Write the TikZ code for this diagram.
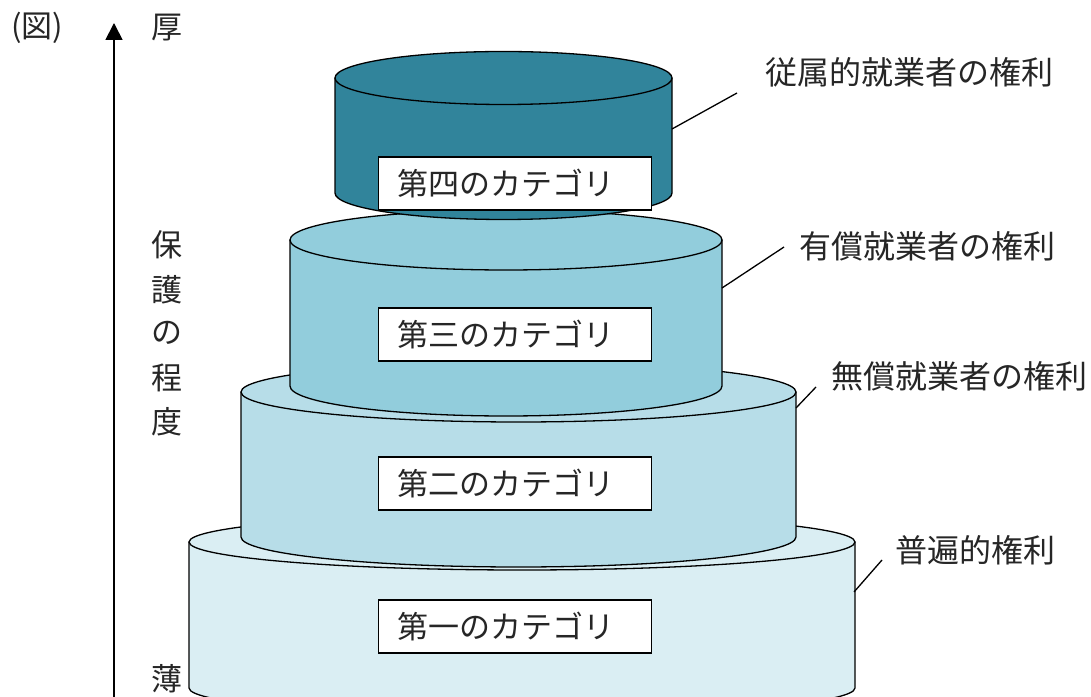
\documentclass[tikz,border=0pt]{standalone}
\usepackage{fontspec}
\setmainfont{Noto Sans CJK JP}
\usetikzlibrary{arrows.meta}
\definecolor{c4}{HTML}{31849B}
\definecolor{c3}{HTML}{92CDDC}
\definecolor{c2}{HTML}{B7DDE8}
\definecolor{c1}{HTML}{DAEEF3}
\newcommand{\drawcyl}[6]{%
  \filldraw[cylline, fill=#6] ({#1-#2}, #3) -- ({#1-#2}, #4)
    arc[start angle=180, end angle=360, x radius=#2pt, y radius=#5pt]
    -- ({#1+#2}, #3) -- cycle;
  \filldraw[cylline, fill=#6] (#1, #3) ellipse[x radius=#2pt, y radius=#5pt];
}
\begin{document}
\begin{tikzpicture}[x=1pt, y=1pt,
  cylline/.style={draw=black, line width=1.3pt, line join=round},
  lbl/.style={font=\fontsize{31}{31}\selectfont, inner sep=0pt, text=black!85},
  rlbl/.style={font=\fontsize{32}{32}\selectfont, inner sep=0pt, text=black!85, anchor=west},
  catbox/.style={draw=black, line width=1.2pt, fill=white, font=\fontsize{31}{31}\selectfont,
    text width=235pt, align=left, inner xsep=19pt, inner ysep=0pt, minimum height=53pt, anchor=west, text=black!85},
  leader/.style={draw=black, line width=1.3pt}]
\useasboundingbox (0,0) rectangle (1091,696);
\clip (0,0) rectangle (1091,696);
% cylinders
\drawcyl{522}{333}{154}{8}{28}{c1}
\node[catbox] (k1) at (378,69.5) {第一のカテゴリ};
\drawcyl{518.5}{277.5}{304}{159}{30}{c2}
\node[catbox] (k2) at (378,212.5) {第二のカテゴリ};
\drawcyl{506}{216}{456}{310}{30}{c3}
\node[catbox] (k3) at (378,361.5) {第三のカテゴリ};
\drawcyl{503.5}{168.5}{618}{503}{26.5}{c4}
\node[catbox] (k4) at (378,512.5) {第四のカテゴリ};
% leader lines and labels
\node[rlbl] (t4) at (765,624) {従属的就業者の権利};
\node[rlbl] (t3) at (799,450) {有償就業者の権利};
\node[rlbl] (t2) at (831,320) {無償就業者の権利};
\node[rlbl] (t1) at (895,146) {普遍的権利};
\coordinate (s4) at (672,567); \coordinate (e4) at (737,603);
\coordinate (s3) at (722,408); \coordinate (e3) at (784,449);
\coordinate (s2) at (796,288); \coordinate (e2) at (816,309);
\coordinate (s1) at (854,104); \coordinate (e1) at (882,136);
\draw[leader] (s4) -- (e4);
\draw[leader] (s3) -- (e3);
\draw[leader] (s2) -- (e2);
\draw[leader] (s1) -- (e1);
% axis
\coordinate (ab) at (114,-2);
\coordinate (at) at (114,673);
\draw[line width=1.8pt, -{Triangle[width=17pt,length=17pt]}] (ab) -- (at);
\node[lbl] (fig) at (37,668) {(図)};
\node[lbl] (thick) at (167,668) {厚};
\node[lbl] (thin) at (167,17) {薄};
\node[lbl] (v1) at (167,451) {保};
\node[lbl] (v2) at (167,406) {護};
\node[lbl] (v3) at (167,363) {の};
\node[lbl] (v4) at (167,318) {程};
\node[lbl] (v5) at (167,274) {度};
\end{tikzpicture}
\end{document}
